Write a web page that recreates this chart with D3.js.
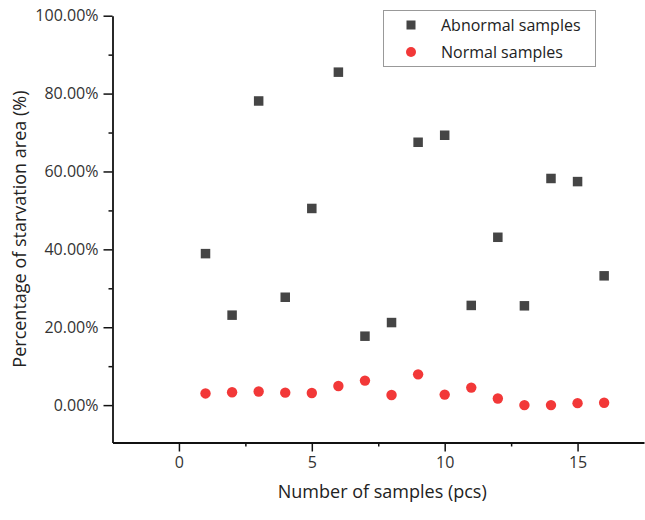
<!DOCTYPE html>
<html>
<head>
<meta charset="utf-8">
<script src="https://cdn.jsdelivr.net/npm/d3@7"></script>
<style>
  body { margin: 0; background: #fff; }
  text { font-family: "Open Sans", sans-serif; }
</style>
</head>
<body>
<div id="chart"></div>
<script>
/*
DATA
*/
const sampleIds = [1, 2, 3, 4, 5, 6, 7, 8, 9, 10, 11, 12, 13, 14, 15, 16];
const abnormal = [0.389, 0.231, 0.781, 0.277, 0.505, 0.855, 0.177, 0.212, 0.675, 0.693, 0.256, 0.431, 0.255, 0.582, 0.574, 0.332];
const normal = [0.030, 0.033, 0.035, 0.032, 0.031, 0.049, 0.063, 0.026, 0.079, 0.027, 0.045, 0.017, 0.000, 0.000, 0.005, 0.006];
const xTicks = [0, 5, 10, 15];
const xMinor = [-2.5, 2.5, 7.5, 12.5, 17.5];
const yTicks = [0, 0.2, 0.4, 0.6, 0.8, 1.0];
const yMinor = [-0.1, 0.1, 0.3, 0.5, 0.7, 0.9];

/*
SET UP
*/
const w = 645;
const h = 520;
const m = { top: 15.7, right: 1, bottom: 77.5, left: 112.5 };

const svg = d3
  .select("#chart")
  .append("svg")
  .attr("width", w)
  .attr("height", h);

const x = d3.scaleLinear().domain([-2.5, 17.5]).range([m.left, w - m.right]);
const y = d3.scaleLinear().domain([-0.096, 1.0]).range([h - m.bottom, m.top]);

/*
AXES
*/
const fmt = d3.format(".2%");

const gx = svg.append("g").attr("transform", `translate(0,${h - m.bottom})`);
gx.call(d3.axisBottom(x).tickValues(xTicks).tickSize(9).tickPadding(5).tickSizeOuter(0));
gx.append("g").call(d3.axisBottom(x).tickValues(xMinor.filter((d) => d > -2.5 && d < 17.5)).tickSize(4).tickFormat(""))
  .select(".domain").remove();

const gy = svg.append("g").attr("transform", `translate(${m.left},0)`);
gy.call(d3.axisLeft(y).tickValues(yTicks).tickFormat(fmt).tickSize(9).tickPadding(5).tickSizeOuter(0));
gy.append("g").call(d3.axisLeft(y).tickValues(yMinor.filter((d) => d > -0.096)).tickSize(4).tickFormat(""))
  .select(".domain").remove();

svg.selectAll(".domain").attr("stroke", "#111").attr("stroke-width", 1.8);
svg.selectAll(".tick line").attr("stroke", "#111").attr("stroke-width", 1.5);
svg.selectAll(".tick text")
  .attr("fill", "#333")
  .style("font-size", "16px")
  .style("font-family", "'Open Sans', sans-serif");

// axis titles
svg.append("text")
  .attr("x", (m.left + w - m.right) / 2 + 4)
  .attr("y", 498)
  .attr("text-anchor", "middle")
  .attr("fill", "#222")
  .style("font-size", "18px")
  .text("Number of samples (pcs)");

svg.append("text")
  .attr("transform", `translate(26,${(m.top + h - m.bottom) / 2}) rotate(-90)`)
  .attr("text-anchor", "middle")
  .attr("fill", "#222")
  .style("font-size", "18px")
  .text("Percentage of starvation area (%)");

/*
POINTS
*/
const grey = "#454545";
const red = "#f23838";

svg.append("g")
  .selectAll("rect")
  .data(sampleIds)
  .join("rect")
  .attr("x", (d, i) => x(d) - 4.75)
  .attr("y", (d, i) => y(abnormal[i]) - 4.75)
  .attr("width", 9.5)
  .attr("height", 9.5)
  .attr("fill", grey);

svg.append("g")
  .selectAll("circle")
  .data(sampleIds)
  .join("circle")
  .attr("cx", (d) => x(d))
  .attr("cy", (d, i) => y(normal[i]))
  .attr("r", 5.2)
  .attr("fill", red);

/*
LEGEND
*/
const legend = svg.append("g");
legend.append("rect")
  .attr("x", 383.5)
  .attr("y", 10.5)
  .attr("width", 212)
  .attr("height", 56)
  .attr("fill", "#fff")
  .attr("stroke", "#999")
  .attr("stroke-width", 1);

const items = [
  { label: "Abnormal samples", shape: "square", color: grey, cy: 25 },
  { label: "Normal samples", shape: "circle", color: red, cy: 52 }
];

items.forEach((d) => {
  if (d.shape === "square") {
    legend.append("rect")
      .attr("x", 411 - 4.5).attr("y", d.cy - 4.5)
      .attr("width", 9).attr("height", 9)
      .attr("fill", d.color);
  } else {
    legend.append("circle")
      .attr("cx", 411).attr("cy", d.cy).attr("r", 5)
      .attr("fill", d.color);
  }
  legend.append("text")
    .attr("x", 441)
    .attr("y", d.cy)
    .attr("dy", "0.35em")
    .attr("fill", "#222")
    .style("font-size", "16px")
    .text(d.label);
});
</script>
</body>
</html>
